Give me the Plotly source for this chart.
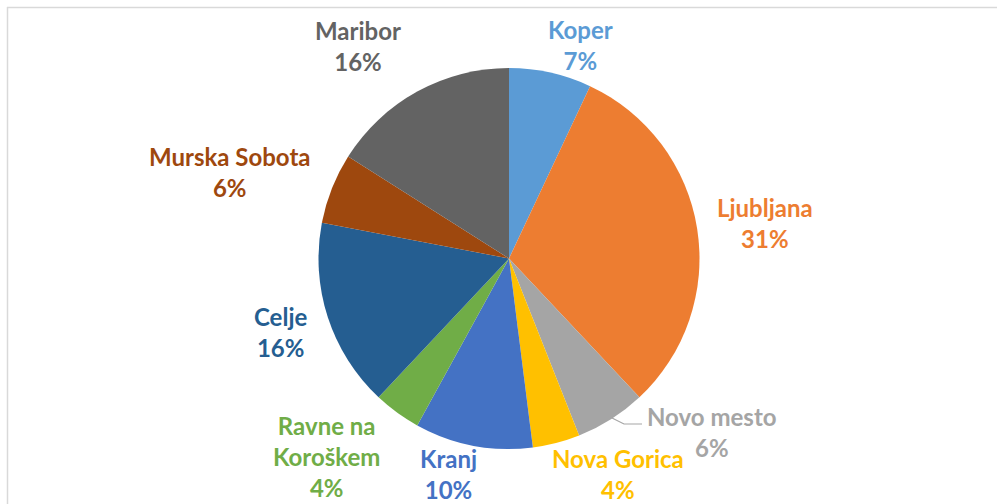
import plotly.graph_objects as go

# ---- data ----
cities = ["Koper", "Ljubljana", "Novo mesto", "Nova Gorica", "Kranj",
          "Ravne na Koroškem", "Celje", "Murska Sobota", "Maribor"]
shares = [7, 31, 6, 4, 10, 4, 16, 6, 16]
label_text = ["Koper", "Ljubljana", "Novo mesto", "Nova Gorica", "Kranj",
              "Ravne na<br>Koroškem", "Celje", "Murska Sobota", "Maribor"]

# ---- styling ----
colors = ["#5B9BD5", "#ED7D31", "#A5A5A5", "#FFC000", "#4472C4",
          "#70AD47", "#255E91", "#9E480E", "#636363"]
W, H = 997, 504
# label centre positions (pixels)
lab_px = [(580, 45), (765, 223), (712, 432), (618, 474), (448, 474),
          (326, 456), (281, 332), (230, 172), (358, 46)]

cx, cy, r = 509, 258.5, 190.5

fig = go.Figure(go.Pie(
    labels=cities, values=shares, sort=False, direction="clockwise",
    rotation=0, textinfo="none", hoverinfo="label+percent",
    marker=dict(colors=colors, line=dict(width=0)),
    domain=dict(x=[(cx - r) / W, (cx + r) / W],
                y=[(H - cy - r) / H, (H - cy + r) / H]),
    showlegend=False,
))

total = sum(shares)
annotations = []
for name, v, col, (px, py) in zip(label_text, shares, colors, lab_px):
    annotations.append(dict(
        x=px / W, y=1 - py / H, xref="paper", yref="paper",
        xanchor="center", yanchor="middle", showarrow=False,
        text=f"<b>{name}<br>{round(v / total * 100)}%</b>",
        font=dict(family="Lato", size=24, color=col),
    ))

shapes = [
    dict(type="line", xref="paper", yref="paper", x0=7 / W, x1=1.0,
         y0=1 - 7.5 / H, y1=1 - 7.5 / H, line=dict(color="#d9d9d9", width=1.5)),
    dict(type="line", xref="paper", yref="paper", x0=7.5 / W, x1=7.5 / W,
         y0=0, y1=1 - 7 / H, line=dict(color="#d9d9d9", width=1.5)),
    # leader line for Novo mesto
    dict(type="path", xref="paper", yref="paper",
         path=f"M {612/W},{1-418/H} L {624/W},{1-424/H} L {642/W},{1-424/H}",
         line=dict(color="#A5A5A5", width=1.2)),
]

fig.update_layout(
    width=W, height=H, margin=dict(l=0, r=0, t=0, b=0),
    paper_bgcolor="white", plot_bgcolor="white",
    annotations=annotations, shapes=shapes,
)

fig.write_html("out.html", config={"displayModeBar": False},
               post_script="document.body.style.margin='0';document.body.style.overflow='hidden';")
